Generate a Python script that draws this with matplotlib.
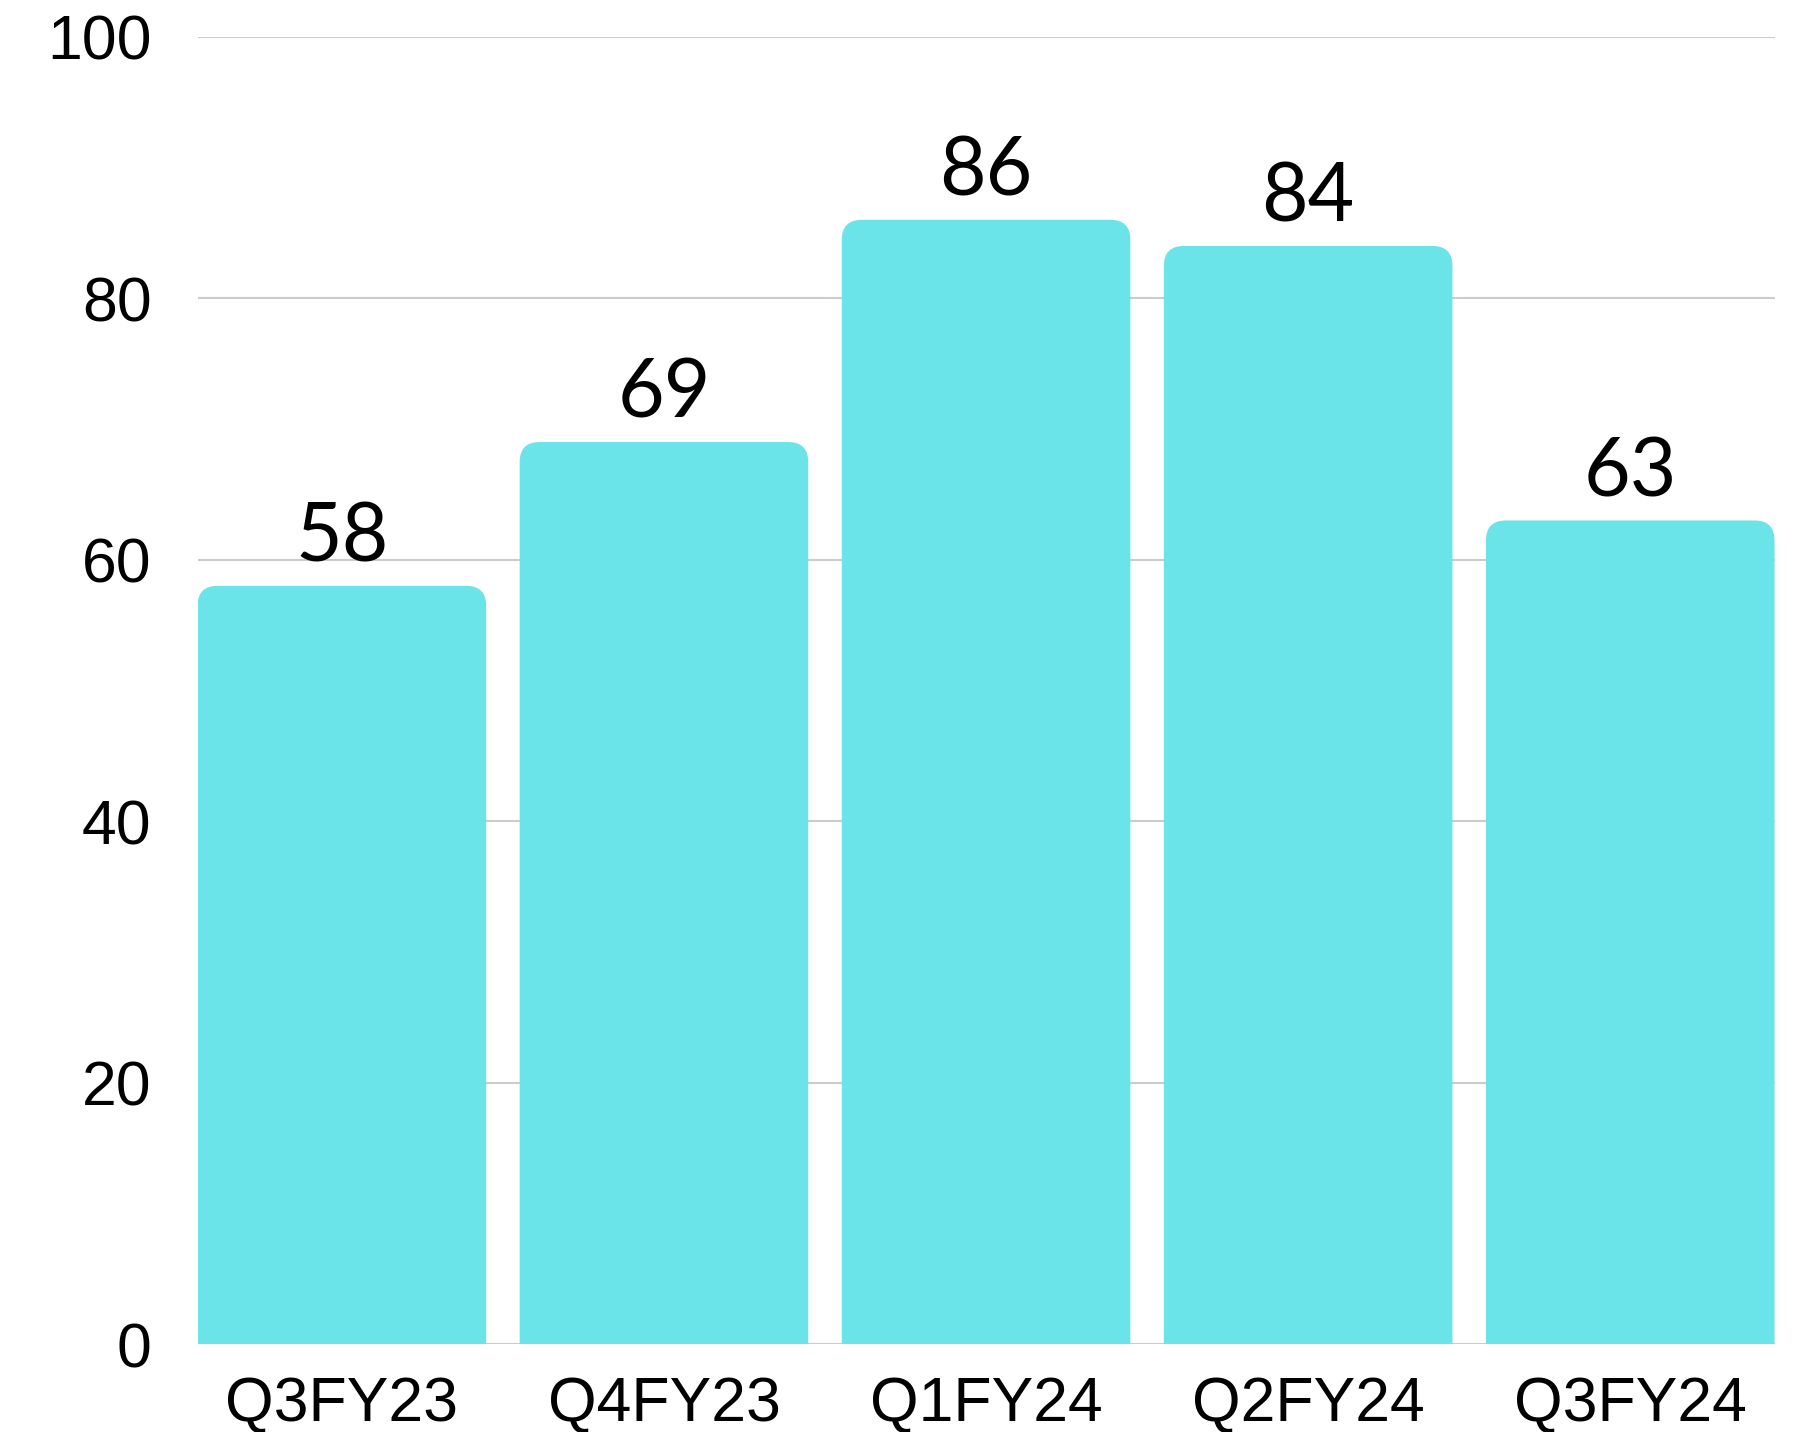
import matplotlib
matplotlib.use("Agg")
import matplotlib.pyplot as plt
from matplotlib.patches import FancyBboxPatch

categories = ["Q3FY23", "Q4FY23", "Q1FY24", "Q2FY24", "Q3FY24"]
values = [58, 69, 86, 84, 63]
yticks = [0, 20, 40, 60, 80, 100]

BAR_COLOR = "#6AE4E8"
W, H, DPI = 18.01, 14.32, 100

fig = plt.figure(figsize=(W, H), dpi=DPI)
ax = fig.add_axes([0.1097, 0.06145, 0.9853 - 0.1097, 0.9743 - 0.06145])

bw = 0.896
x = list(range(len(categories)))
bars = ax.bar(x, values, width=bw, color=BAR_COLOR, zorder=3)
ax.set_xlim(-bw / 2, len(categories) - 1 + bw / 2)
ax.set_ylim(0, 100)

# rounded top corners
ax_w_px = (0.9853 - 0.1097) * W * DPI
ax_h_px = (0.9743 - 0.06145) * H * DPI
xu = ax_w_px / (ax.get_xlim()[1] - ax.get_xlim()[0])
yu = ax_h_px / 100.0
r_px = 20
rx, ry = r_px / xu, r_px / yu
for b in bars:
    b.set_visible(False)
    p = FancyBboxPatch((b.get_x(), -2 * ry), b.get_width(), b.get_height() + 2 * ry,
                       boxstyle=f"round,pad=0,rounding_size={rx}",
                       mutation_aspect=ry / rx, facecolor=BAR_COLOR,
                       edgecolor="none", zorder=3, clip_on=True)
    ax.add_patch(p)
    ax.text(b.get_x() + b.get_width() / 2, b.get_height() + 0.8, str(int(b.get_height())),
            ha="center", va="bottom", fontsize=58, family="Lato", color="black", zorder=4)

ax.set_yticks(yticks)
ax.set_yticklabels([str(t) for t in yticks], fontsize=45, family="Liberation Sans")
ax.set_xticks(x)
ax.set_xticklabels(categories, fontsize=45, family="Liberation Sans")
ax.tick_params(axis="y", length=0, pad=33)
ax.tick_params(axis="x", length=0, pad=22)
ax.grid(axis="y", color="#cccccc", linewidth=1.5, zorder=0)
ax.axhline(0, color="#888888", linewidth=2, zorder=1)
for s in ax.spines.values():
    s.set_visible(False)

fig.savefig("out.png", dpi=DPI)
